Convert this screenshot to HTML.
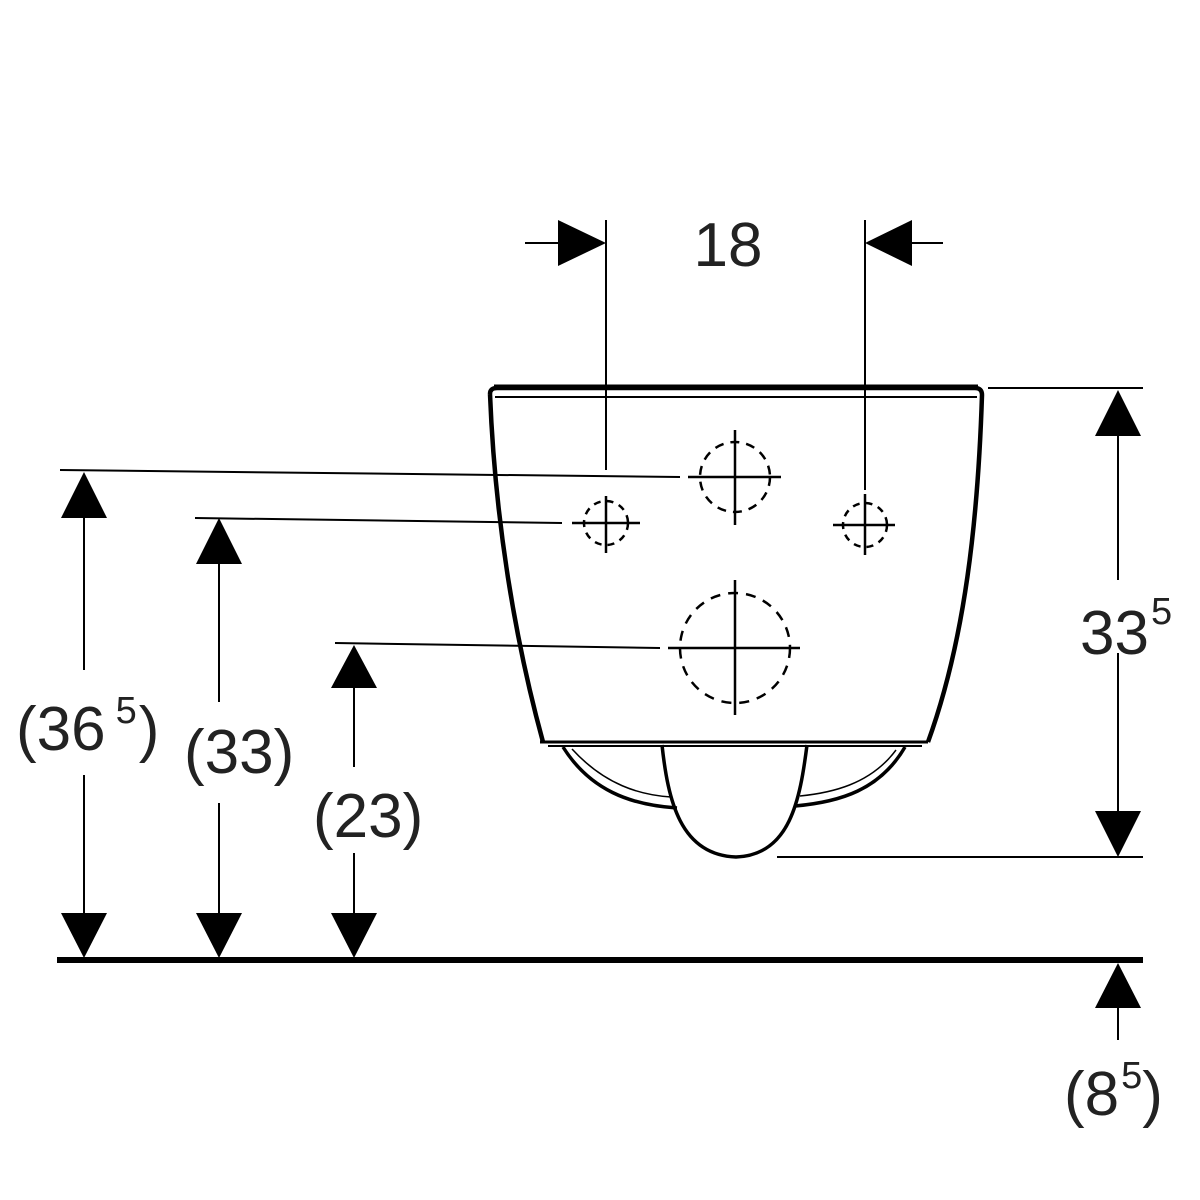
<!DOCTYPE html>
<html><head><style>html,body{margin:0;padding:0;background:#fff}svg{display:block}</style></head>
<body>
<svg width="1200" height="1200" viewBox="0 0 1200 1200" xmlns="http://www.w3.org/2000/svg">
<g stroke="#000" fill="none" stroke-linecap="butt">
<!-- bowl -->
<path d="M490,394 Q490,388 497,388 L975,388 Q982,388 982,395 C978,520 965,640 928,742" stroke-width="4.5"/>
<line x1="494" y1="387" x2="978" y2="387" stroke-width="5"/>
<path d="M490,394 C495,520 515,640 543,742" stroke-width="4.5"/>
<line x1="495" y1="397" x2="977" y2="397" stroke-width="2"/>
<line x1="540" y1="742" x2="928" y2="742" stroke-width="3"/>
<line x1="548" y1="746" x2="922" y2="746" stroke-width="2"/>
<!-- wings -->
<path d="M563,747 C590,790 630,805 677,808" stroke-width="3.5"/>
<path d="M572,749 C605,785 640,795 671,797" stroke-width="1.5"/>
<path d="M905,747 C880,790 840,802 795,806" stroke-width="3.5"/>
<path d="M896,750 C870,785 830,793 800,796" stroke-width="1.5"/>
<!-- trap -->
<path d="M662,745 C668,800 680,855 736,857 C790,855 800,800 807,745" stroke-width="3.5"/>
<!-- holes -->
<g stroke-width="2.5">
<circle cx="735" cy="477" r="35" stroke-dasharray="9,7"/>
<line x1="688" y1="477" x2="781" y2="477"/><line x1="735" y1="430" x2="735" y2="525"/>
<circle cx="606" cy="523" r="22" stroke-dasharray="7,6"/>
<line x1="572" y1="523" x2="640" y2="523"/><line x1="606" y1="496" x2="606" y2="553"/>
<circle cx="865" cy="525" r="22" stroke-dasharray="7,6"/>
<line x1="833" y1="525" x2="895" y2="525"/><line x1="865" y1="494" x2="865" y2="555"/>
<circle cx="735" cy="648" r="55" stroke-dasharray="10,8"/>
<line x1="668" y1="648" x2="800" y2="648"/><line x1="735" y1="580" x2="735" y2="715"/>
</g>
<!-- extension lines -->
<g stroke-width="2">
<line x1="60" y1="470" x2="680" y2="477"/>
<line x1="195" y1="518" x2="562" y2="523"/>
<line x1="335" y1="643" x2="660" y2="648"/>
<line x1="606" y1="220" x2="606" y2="470"/>
<line x1="865" y1="220" x2="865" y2="490"/>
<line x1="988" y1="388" x2="1143" y2="388"/>
<line x1="777" y1="857" x2="1143" y2="857"/>
<line x1="525" y1="243" x2="560" y2="243"/>
<line x1="912" y1="243" x2="943" y2="243"/>
<line x1="84" y1="515" x2="84" y2="670"/><line x1="84" y1="775" x2="84" y2="915"/>
<line x1="219" y1="560" x2="219" y2="702"/><line x1="219" y1="803" x2="219" y2="915"/>
<line x1="354" y1="685" x2="354" y2="767"/><line x1="354" y1="853" x2="354" y2="915"/>
<line x1="1118" y1="430" x2="1118" y2="580"/><line x1="1118" y1="653" x2="1118" y2="815"/>
<line x1="1118" y1="1005" x2="1118" y2="1040"/>
</g>
<line x1="57" y1="960" x2="1143" y2="960" stroke-width="6"/>
</g>
<g fill="#000">
<polygon points="606,243 558,220 558,266"/>
<polygon points="865,243 912,220 912,266"/>
<polygon points="1118,390 1095,436 1141,436"/>
<polygon points="1118,857 1095,811 1141,811"/>
<polygon points="84,472 61,518 107,518"/>
<polygon points="84,958 61,913 107,913"/>
<polygon points="219,518 196,564 242,564"/>
<polygon points="219,958 196,913 242,913"/>
<polygon points="354,645 331,688 377,688"/>
<polygon points="354,958 331,913 377,913"/>
<polygon points="1118,963 1095,1008 1141,1008"/>
</g>
<g font-family="Liberation Sans, sans-serif" fill="#222" font-size="62">
<text x="728" y="266" text-anchor="middle">18</text>
<text x="1080" y="654">33<tspan font-size="38" dy="-30" dx="2">5</tspan></text>
<text x="16" y="750">(36<tspan font-size="38" dy="-27" dx="10">5</tspan><tspan dy="27" dx="2">)</tspan></text>
<text x="184" y="773">(33)</text>
<text x="313" y="837">(23)</text>
<text x="1064" y="1115">(8<tspan font-size="38" dy="-27" dx="2">5</tspan><tspan dy="27">)</tspan></text>
</g>
</svg>
</body></html>
